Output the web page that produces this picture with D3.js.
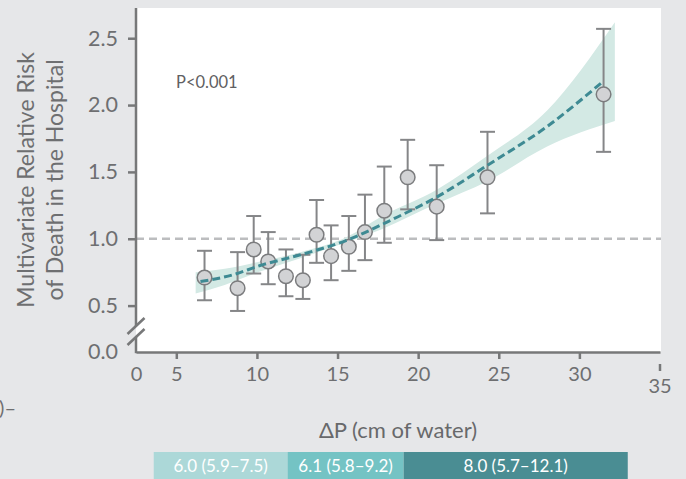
<!DOCTYPE html>
<html>
<head>
<meta charset="utf-8">
<script src="https://cdn.jsdelivr.net/npm/d3@7"></script>
<style>
  html, body { margin: 0; padding: 0; background: #e6e7e9; }
  svg { display: block; font-family: Lato, "Noto Sans", sans-serif; }
</style>
</head>
<body>
<svg id="chart" width="686" height="479"></svg>
<script>
// data
var deltaP = [6.75, 8.8, 9.8, 10.7, 11.8, 12.85, 13.7, 14.6, 15.7, 16.7, 17.9, 19.35, 21.15, 24.3, 31.5];
var rr     = [0.71, 0.63, 0.92, 0.83, 0.72, 0.69, 1.03, 0.87, 0.94, 1.05, 1.21, 1.46, 1.24, 1.46, 2.08];
var rrLow  = [0.54, 0.46, 0.74, 0.66, 0.57, 0.55, 0.82, 0.69, 0.76, 0.84, 0.97, 1.22, 0.99, 1.19, 1.65];
var rrHigh = [0.91, 0.90, 1.17, 1.05, 0.92, 0.88, 1.29, 1.10, 1.17, 1.33, 1.54, 1.74, 1.55, 1.80, 2.57];

var fitX = [6.5, 8.5, 10.2, 12.7, 15.6, 18.5, 21.2, 24.3, 28.0, 31.5];
var fitY = [0.68, 0.73, 0.80, 0.88, 0.99, 1.15, 1.315, 1.55, 1.84, 2.18];

var bandX    = [6.2, 8.0, 10.2, 12.7, 15.6, 17.7, 21.2, 24.3, 28.0, 32.2];
var bandLow  = [0.59, 0.655, 0.755, 0.855, 0.975, 1.07, 1.265, 1.43, 1.69, 1.88];
var bandHigh = [0.75, 0.775, 0.83, 0.90, 1.015, 1.165, 1.37, 1.62, 1.96, 2.62];

var xTicks = [0, 5, 10, 15, 20, 25, 30, 35];
var yTicks = [0.0, 0.5, 1.0, 1.5, 2.0, 2.5];

var tertileLabels = ["6.0 (5.9\u20137.5)", "6.1 (5.8\u20139.2)", "8.0 (5.7\u201312.1)"];
var tertileEdges  = [3.6, 11.9, 19.1, 33.0];
var tertileColors = ["#acd8d8", "#74c3c4", "#4a8d93"];

var svg = d3.select("#chart");
var plotL = 136, plotR = 661, plotT = 8, plotB = 352;

// broken axes: the origin stands for 0 on both axes
var xOrigin = 2.5, yOrigin = 0.153;
var x = d3.scaleLinear().domain([xOrigin, 35]).range([plotL, 660]);
var y = d3.scaleLinear().domain([yOrigin, 2.726]).range([plotB, plotT]);

var axisColor = "#777879", textColor = "#6e6f71";

svg.append("rect")
  .attr("x", plotL).attr("y", plotT)
  .attr("width", plotR - plotL).attr("height", plotB - plotT)
  .attr("fill", "#fff");

// reference line at RR = 1
svg.append("line")
  .attr("x1", plotL).attr("x2", plotR)
  .attr("y1", y(1)).attr("y2", y(1))
  .attr("stroke", "#bcbdbf").attr("stroke-width", 2.5)
  .attr("stroke-dasharray", "8,5");

// confidence band
var band = d3.area()
  .x(function(d) { return x(d[0]); })
  .y0(function(d) { return y(d[1]); })
  .y1(function(d) { return y(d[2]); })
  .curve(d3.curveMonotoneX);
svg.append("path")
  .datum(bandX.map(function(v, i) { return [v, bandLow[i], bandHigh[i]]; }))
  .attr("d", band)
  .attr("fill", "#d3e9e4");

// error bars
var pts = deltaP.map(function(v, i) { return {x: v, y: rr[i], lo: rrLow[i], hi: rrHigh[i]}; });
var eb = svg.append("g").attr("stroke", "#858688").attr("stroke-width", 2).attr("fill", "none");
pts.forEach(function(d) {
  eb.append("line").attr("x1", x(d.x)).attr("x2", x(d.x)).attr("y1", y(d.lo)).attr("y2", y(d.hi));
  eb.append("line").attr("x1", x(d.x) - 7.5).attr("x2", x(d.x) + 7.5).attr("y1", y(d.lo)).attr("y2", y(d.lo));
  eb.append("line").attr("x1", x(d.x) - 7.5).attr("x2", x(d.x) + 7.5).attr("y1", y(d.hi)).attr("y2", y(d.hi));
});

svg.append("g").selectAll("circle")
  .data(pts)
  .enter().append("circle")
  .attr("cx", function(d) { return x(d.x); })
  .attr("cy", function(d) { return y(d.y); })
  .attr("r", 7.3)
  .attr("fill", "#d2d3d5")
  .attr("stroke", "#7b7c7e")
  .attr("stroke-width", 1.5);

// fitted curve
var fit = d3.line()
  .x(function(d) { return x(d[0]); })
  .y(function(d) { return y(d[1]); })
  .curve(d3.curveMonotoneX);
svg.append("path")
  .datum(fitX.map(function(v, i) { return [v, fitY[i]]; }))
  .attr("d", fit)
  .attr("fill", "none")
  .attr("stroke", "#3e8a93")
  .attr("stroke-width", 3)
  .attr("stroke-dasharray", "8,4");

// x axis
var xAxis = svg.append("g")
  .attr("transform", "translate(0," + plotB + ")")
  .call(d3.axisBottom(x)
    .tickValues(xTicks.map(function(v) { return v === 0 ? xOrigin : v; }))
    .tickFormat(function(v) { return v === xOrigin ? "0" : v; })
    .tickSize(7).tickPadding(8).tickSizeOuter(0));
xAxis.select(".domain").attr("stroke", axisColor).attr("stroke-width", 2.5);
xAxis.selectAll(".tick line").attr("stroke", axisColor).attr("stroke-width", 2.5);
xAxis.selectAll(".tick text").attr("fill", textColor).style("font-size", "20px").style("font-family", "Lato, sans-serif");
// the 35 tick hangs lower than the rest
xAxis.selectAll(".tick").filter(function(d) { return d === 35; })
  .attr("transform", "translate(" + x(35) + ",12)");
xAxis.selectAll(".tick").filter(function(d) { return d === xOrigin; }).select("line").remove();

// y axis (domain drawn by hand for the break)
var yAxis = svg.append("g")
  .attr("transform", "translate(" + plotL + ",0)")
  .call(d3.axisLeft(y)
    .tickValues(yTicks.map(function(v) { return v === 0 ? yOrigin : v; }))
    .tickFormat(function(v) { return v === yOrigin ? "0.0" : d3.format(".1f")(v); })
    .tickSize(8).tickPadding(10).tickSizeOuter(0));
yAxis.select(".domain").remove();
yAxis.selectAll(".tick line").attr("stroke", axisColor).attr("stroke-width", 2.5);
yAxis.selectAll(".tick").filter(function(d) { return d === yOrigin; }).select("line").remove();
yAxis.selectAll(".tick text").attr("fill", textColor).style("font-size", "21.5px").style("font-family", "Lato, sans-serif");

var brk1 = 326, brk2 = 337;
svg.append("line").attr("x1", plotL).attr("x2", plotL).attr("y1", plotT).attr("y2", brk1)
  .attr("stroke", axisColor).attr("stroke-width", 2.5);
svg.append("line").attr("x1", plotL).attr("x2", plotL).attr("y1", brk2).attr("y2", plotB + 1.2)
  .attr("stroke", axisColor).attr("stroke-width", 2.5);
[brk1, brk2].forEach(function(b) {
  svg.append("line")
    .attr("x1", plotL - 8.5).attr("y1", b + 8)
    .attr("x2", plotL + 8.5).attr("y2", b - 8)
    .attr("stroke", axisColor).attr("stroke-width", 2.5);
});

// labels
svg.append("text")
  .attr("x", 176).attr("y", 88)
  .attr("fill", "#5f6062")
  .style("font-size", "16.5px")
  .text("P<0.001");

var yl = svg.append("text")
  .attr("transform", "translate(0,180) rotate(-90)")
  .attr("text-anchor", "middle")
  .attr("fill", textColor)
  .style("font-size", "23px");
yl.append("tspan").attr("x", 0).attr("y", 34).text("Multivariate Relative Risk");
yl.append("tspan").attr("x", 0).attr("y", 63).text("of Death in the Hospital");

svg.append("text")
  .attr("x", 398).attr("y", 438)
  .attr("text-anchor", "middle")
  .attr("fill", "#68696b")
  .style("font-size", "22px")
  .text("\u0394P (cm of water)");

// cut-off fragment at the left edge
svg.append("text")
  .attr("x", 16).attr("y", 415)
  .attr("text-anchor", "end")
  .attr("fill", textColor)
  .style("font-size", "20px")
  .text("0)\u2013");

// tertile bar
var tg = svg.append("g");
tertileLabels.forEach(function(lab, i) {
  var x0 = x(tertileEdges[i]), x1 = x(tertileEdges[i + 1]);
  tg.append("rect")
    .attr("x", x0).attr("y", 452)
    .attr("width", x1 - x0).attr("height", 27)
    .attr("fill", tertileColors[i]);
  tg.append("text")
    .attr("x", (x0 + x1) / 2).attr("y", 472)
    .attr("text-anchor", "middle")
    .attr("fill", "#fff")
    .style("font-size", "17px")
    .text(lab);
});
</script>
</body>
</html>
